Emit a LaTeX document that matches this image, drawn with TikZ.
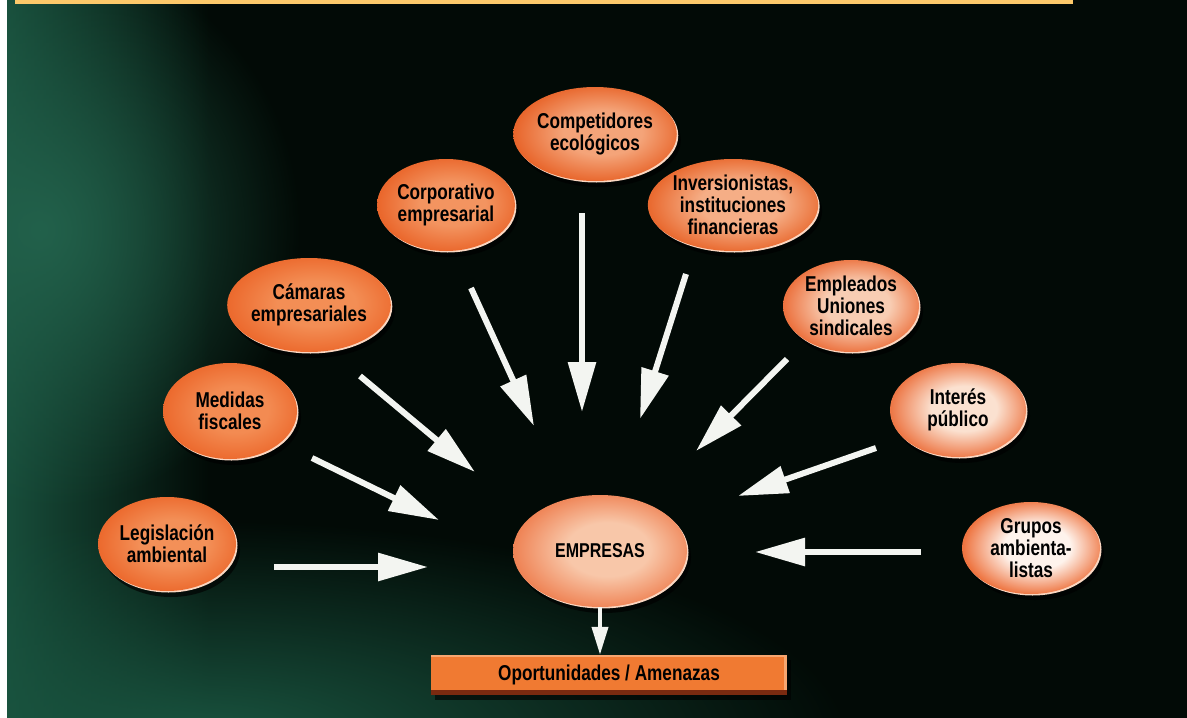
\documentclass[tikz,border=0pt]{standalone}
\usepackage{fontspec}
\newfontfamily\labfont{Liberation Sans}[FakeStretch=0.8]
\usetikzlibrary{shapes.geometric,arrows.meta,fadings}
\tikzfading[name=fadeR, left color=transparent!0, right color=transparent!100]
\tikzfading[name=radfade, inner color=transparent!0, outer color=transparent!100]
\makeatletter
\pgfdeclareradialshading[tikz@radial@inner,tikz@radial@outer]{ballr}{\pgfpoint{3bp}{1bp}}{color(0bp)=(tikz@radial@inner);color(12bp)=(tikz@radial@inner);color(26bp)=(tikz@radial@outer);color(50bp)=(tikz@radial@outer)}
\makeatother
\definecolor{bgk}{HTML}{020A06}
\definecolor{bgg}{HTML}{184E3B}
\definecolor{bgg2}{HTML}{22614B}
\definecolor{bgg3}{HTML}{1A5641}
\definecolor{band}{HTML}{FDC96A}
\definecolor{rimc}{HTML}{FAD7C2}
\definecolor{arw}{HTML}{F3F5F1}
\definecolor{boxor}{HTML}{F07A32}
\definecolor{boxdk}{HTML}{7A2A10}
\definecolor{boxlt}{HTML}{F7A670}
\definecolor{compI}{HTML}{F4A479}\definecolor{compO}{HTML}{E8662C}
\definecolor{corpI}{HTML}{F39460}\definecolor{corpO}{HTML}{EA672C}
\definecolor{invI}{HTML}{F5AE86}\definecolor{invO}{HTML}{E96A30}
\definecolor{camI}{HTML}{F38E55}\definecolor{camO}{HTML}{EC6A2E}
\definecolor{empleI}{HTML}{F8CDB3}\definecolor{empleO}{HTML}{EC7340}
\definecolor{medI}{HTML}{F38B52}\definecolor{medO}{HTML}{EC6A2E}
\definecolor{intI}{HTML}{FBE1D0}\definecolor{intO}{HTML}{ED7847}
\definecolor{legI}{HTML}{F39058}\definecolor{legO}{HTML}{EC6A2E}
\definecolor{grpI}{HTML}{FEF3EC}\definecolor{grpO}{HTML}{EE7440}
\definecolor{empI}{HTML}{F8C7A9}\definecolor{empO}{HTML}{EF8456}
\tikzset{
  bub/.style n args={4}{ellipse, inner sep=0pt, minimum width=#3, minimum height=#4,
    align=center, font=\labfont\bfseries\fontsize{21.5}{22}\selectfont, text=black,
    preaction={fill=black, fill opacity=0.65, transform canvas={shift={(4pt,-6pt)}}},
    preaction={fill=rimc, transform canvas={shift={(1.5pt,-1.5pt)}}},
    inner color=#1, outer color=#2, shading=ballr},
  bigarrow/.style={draw=arw, line width=6pt, -{Triangle[length=50pt,width=27pt]}},
  smallarrow/.style={draw=arw, line width=4pt, -{Triangle[length=28pt,width=16pt]}},
  oppbox/.style={rectangle, fill=boxor, minimum width=356pt, minimum height=40pt, inner sep=0pt,
    font=\labfont\bfseries\fontsize{21.5}{22}\selectfont, text=black,
    preaction={fill=black, fill opacity=0.6, transform canvas={shift={(4pt,-5pt)}}}}
}
\begin{document}
\begin{tikzpicture}[x=1pt,y=-1pt]
\useasboundingbox (0,0) rectangle (1187,718);
% background
\fill[white] (0,0) rectangle (1187,718);
\begin{scope}
\clip (7,0) rectangle (1187,718);
\fill[bgk] (7,0) rectangle (1187,718);
\fill[bgg, path fading=fadeR] (7,0) rectangle (210,718);
\fill[bgg2, path fading=radfade] (40,230) ellipse [x radius=260, y radius=280];
\fill[bgg3, path fading=radfade] (200,740) ellipse [x radius=650, y radius=220];
\end{scope}
\fill[band] (15,0) rectangle (1073,3.5);
% bubbles
\node[bub={compI}{compO}{136pt}{94pt}] (comp) at (595,134) {Competidores\\ecológicos};
\node[bub={corpI}{corpO}{136pt}{92pt}] (corp) at (446,205) {Corporativo\\empresarial};
\node[bub={invI}{invO}{136pt}{92pt}] (inv) at (733,205) {Inversionistas,\\instituciones\\financieras};
\node[bub={camI}{camO}{134pt}{94pt}] (cam) at (309,305) {Cámaras\\empresariales};
\node[bub={empleI}{empleO}{136pt}{92pt}] (emple) at (851,306) {Empleados\\Uniones\\sindicales};
\node[bub={medI}{medO}{134pt}{96pt}] (med) at (230,411) {Medidas\\fiscales};
\node[bub={intI}{intO}{136pt}{94pt}] (int) at (958,410) {Interés\\público};
\node[bub={legI}{legO}{138pt}{94pt}] (leg) at (167,544) {Legislación\\ambiental};
\node[bub={grpI}{grpO}{138pt}{92pt}] (grp) at (1031,548) {Grupos\\ambienta-\\listas};
\node[bub={empI}{empO}{174pt}{112pt}, font=\labfont\bfseries\fontsize{20}{22}\selectfont] (emp) at (600,551) {EMPRESAS};
% result box
\node[oppbox] (opp) at (609,675) {Oportunidades / Amenazas};
\fill[boxlt] (opp.north west) rectangle ([yshift=-2.5pt]opp.north east);
\fill[boxdk] ([yshift=5pt]opp.south west) rectangle (opp.south east);
\fill[boxlt] ([xshift=-3pt]opp.north east) rectangle ([yshift=5pt]opp.south east);
% arrow end points
\coordinate (legS) at (274,567);  \coordinate (legE) at (428,567);
\coordinate (medS) at (312,458);  \coordinate (medE) at (439,520);
\coordinate (camS) at (360,376);  \coordinate (camE) at (475,472);
\coordinate (corS) at (471,288);  \coordinate (corE) at (534,426);
\coordinate (comS) at (582,213);  \coordinate (comE) at (582,412);
\coordinate (invS) at (686,274);  \coordinate (invE) at (640,419);
\coordinate (empS) at (787,359);  \coordinate (empE) at (696,451);
\coordinate (intS) at (876,448);  \coordinate (intE) at (738,496);
\coordinate (grpS) at (921,552);  \coordinate (grpE) at (755,552);
\draw[bigarrow] (legS) -- (legE);
\draw[bigarrow] (medS) -- (medE);
\draw[bigarrow] (camS) -- (camE);
\draw[bigarrow] (corS) -- (corE);
\draw[bigarrow] (comS) -- (comE);
\draw[bigarrow] (invS) -- (invE);
\draw[bigarrow] (empS) -- (empE);
\draw[bigarrow] (intS) -- (intE);
\draw[bigarrow] (grpS) -- (grpE);
\draw[smallarrow] (emp.south) -- (emp.south |- opp.north);
\end{tikzpicture}
\end{document}
